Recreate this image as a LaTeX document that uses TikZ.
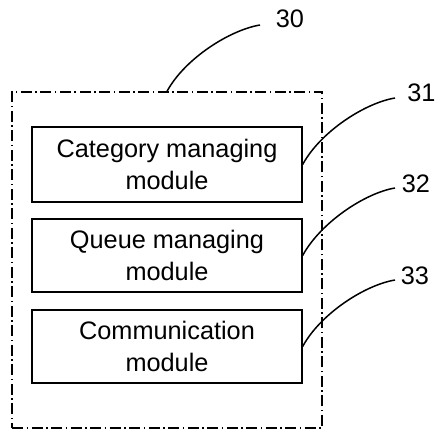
\documentclass[tikz,border=0pt]{standalone}
\usepackage{fontspec}
\setmainfont{Liberation Sans}
\begin{document}
\begin{tikzpicture}[x=1pt,y=-1pt,
  modbox/.style={draw, line width=1.3pt, minimum width=270pt, align=center, inner sep=0pt,
    font=\fontsize{25.3}{32}\selectfont},
  lbl/.style={anchor=base, inner sep=0pt, font=\fontsize{25.3}{30}\selectfont},
  leader/.style={line width=1.5pt},
  outerbox/.style={draw, line width=1.3pt, dash pattern=on 11pt off 3.5pt on 1.5pt off 3.5pt,
    minimum width=310pt, minimum height=336pt, inner sep=0pt}]
\useasboundingbox (0,0) rectangle (437,430);
\node[outerbox] (outer) at (167,260) {};
\node[modbox, minimum height=75pt] (m1) at (167,164.5) {Category managing\\module};
\node[modbox, minimum height=73pt] (m2) at (167,255.5) {Queue managing\\module};
\node[modbox, minimum height=73pt] (m3) at (167,346.5) {Communication\\module};
\node[lbl] (l30) at (290,28) {30};
\node[lbl] (l31) at (421.5,102) {31};
\node[lbl] (l32) at (416,193) {32};
\node[lbl] (l33) at (415,285) {33};
\coordinate (e30) at (260,25);
\coordinate (e31) at (395,98);
\coordinate (e32) at (395,188);
\coordinate (e33) at (395,280);
\draw[leader] (outer.north) .. controls +(18,-33) and +(-30,5) .. (e30);
\draw[leader] (m1.east) .. controls +(18,-33) and +(-30,5) .. (e31);
\draw[leader] (m2.east) .. controls +(18,-33) and +(-30,5) .. (e32);
\draw[leader] (m3.east) .. controls +(18,-33) and +(-30,5) .. (e33);
\end{tikzpicture}
\end{document}
